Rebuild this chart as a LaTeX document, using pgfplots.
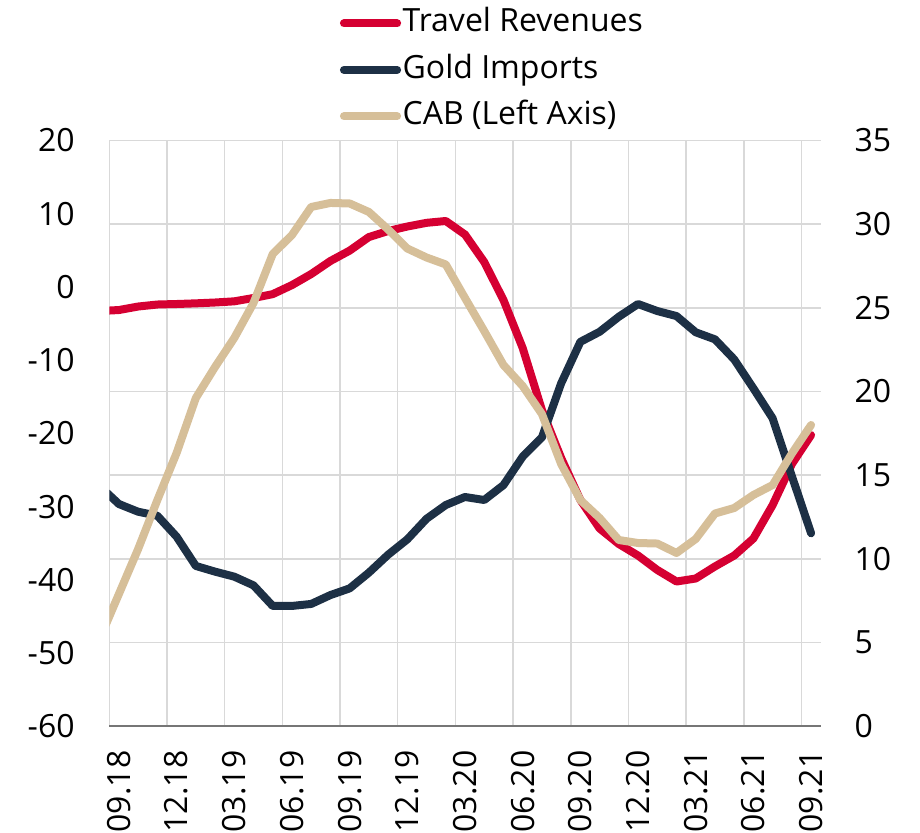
\documentclass[border=0pt]{standalone}
\usepackage{pgfplots}
\usepackage{pgfplotstable}
\pgfplotsset{compat=1.18}
\usepackage{fontspec}
\setmainfont{Open Sans}

\definecolor{travred}{RGB}{213,0,50}
\definecolor{goldnavy}{RGB}{29,48,69}
\definecolor{cabbeige}{RGB}{214,191,153}
\definecolor{gridgray}{RGB}{217,217,217}
\definecolor{axisgray}{RGB}{118,118,118}

% monthly, 12m rolling; x = month index (09.18 centred at 0.5)
\pgfplotstableread{
x     trav   gold   cab
-0.5  24.81  14.35  -48.08
0.5   24.87  13.28  -41.93
1.5   25.08  12.82  -35.79
2.5   25.20  12.58  -29.10
3.5   25.23  11.33  -22.68
4.5   25.27   9.58  -15.17
5.5   25.32   9.24  -10.93
6.5   25.39   8.94   -6.97
7.5   25.59   8.42   -2.19
8.5   25.82   7.19    4.50
9.5   26.36   7.19    7.09
10.5  27.02   7.31   10.92
11.5  27.80   7.84   11.47
12.5  28.42   8.24   11.40
13.5  29.23   9.18   10.24
14.5  29.59  10.25    7.85
15.5  29.86  11.17    5.25
16.5  30.08  12.40    4.02
17.5  30.19  13.22    3.07
18.5  29.38  13.70   -1.51
19.5  27.74  13.52   -6.02
20.5  25.47  14.41  -10.66
21.5  22.60  16.11  -13.53
22.5  18.90  17.26  -17.35
23.5  16.03  20.49  -24.18
24.5  13.52  22.97  -29.10
25.5  11.82  23.57  -31.55
26.5  10.89  24.47  -34.56
27.5  10.20  25.23  -34.97
28.5   9.34  24.81  -35.04
29.5   8.65  24.51  -36.33
30.5   8.83  23.54  -34.42
31.5   9.55  23.12  -30.94
32.5  10.20  21.92  -30.19
33.5  11.22  20.19  -28.41
34.5  13.22  18.40  -27.05
35.5  15.67  14.95  -22.75
36.5  17.40  11.53  -18.85
}\datatable

\begin{document}
\begin{tikzpicture}
\pgfplotsset{
  every axis/.append style={
    scale only axis, width=355.7pt, height=292.9pt,
    xmin=0, xmax=37,
    major tick length=0pt, minor tick length=0pt,
    tick style={draw=none},
    every tick label/.append style={font=\fontsize{16}{19}\selectfont},
    /pgf/number format/assume math mode=true,
  },
  tline/.style={line width=4pt, line join=round, line cap=round},
}

% right axis: travel revenues, gold imports, grid
\begin{axis}[
  name=ax,
  axis x line*=bottom, axis y line*=right,
  x axis line style={-, draw=axisgray, line width=1pt},
  y axis line style={draw=none},
  ymin=0, ymax=35, ytick={0,5,...,35},
  ymajorgrids,
  grid style={gridgray, line width=0.75pt},
  xtick={0.5,3.5,...,36.5},
  xticklabels={09.18,12.18,03.19,06.19,09.19,12.19,03.20,06.20,09.20,12.20,03.21,06.21,09.21},
  minor xtick={0,3,...,36}, xminorgrids,
  minor grid style={gridgray, line width=0.75pt},
  xticklabel style={rotate=90, anchor=east, inner sep=0pt},
  xticklabel shift=12pt,
  yticklabel style={inner sep=0pt},
  yticklabel shift=16.7pt,
]
\addplot[tline, travred] table[x=x, y=trav] {\datatable};
\addplot[tline, goldnavy] table[x=x, y=gold] {\datatable};
\end{axis}

% left axis: CAB, drawn on top
\begin{axis}[
  hide x axis,
  axis y line*=left,
  y axis line style={draw=none},
  ymin=-60, ymax=20, ytick={-60,-50,...,20},
  yticklabel style={inner sep=0pt},
  yticklabel shift=17.15pt,
  legend cell align=left,
  legend image code/.code={\draw[#1] (0pt,0pt) -- (26.6pt,0pt);},
  legend style={
    draw=none, fill=none, inner sep=0pt, outer sep=0pt,
    at={(0.3242,1.2262)}, anchor=north west,
    row sep=7.7pt,
    font=\fontsize{16}{19}\selectfont,
    nodes={inner sep=0pt, text height=12pt, text depth=3.5pt},
    /tikz/every odd column/.append style={column sep=0.75pt},
  },
]
\addlegendimage{tline, travred}
\addlegendimage{tline, goldnavy}
\addplot[tline, cabbeige] table[x=x, y=cab] {\datatable};
\legend{Travel Revenues, Gold Imports, CAB (Left Axis)}
\end{axis}

\pgfresetboundingbox
\path ([xshift=-54.65pt, yshift=-53.35pt]ax.south west)
  rectangle ([xshift=49.65pt, yshift=70.25pt]ax.north east);
\end{tikzpicture}
\end{document}
